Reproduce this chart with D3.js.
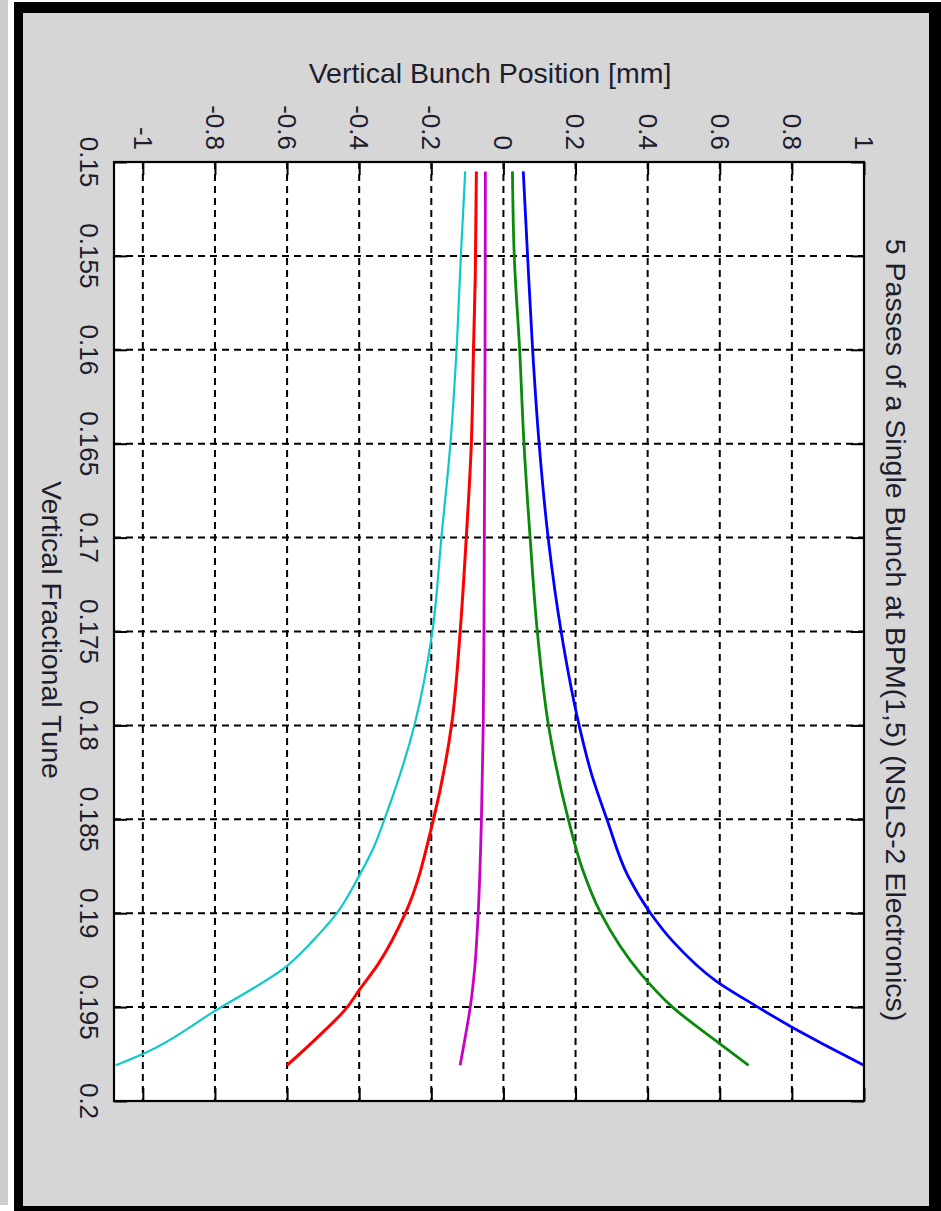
<!DOCTYPE html>
<html>
<head>
<meta charset="utf-8">
<script src="https://cdn.jsdelivr.net/npm/d3@7"></script>
<style>
  body { margin: 0; background: #fff; }
  text { font-family: "Liberation Sans", Arial, sans-serif; fill: #1d1d2e; }
</style>
</head>
<body>
<svg id="chart" width="941" height="1211"></svg>
<script>
// Axis ticks
const tuneTicks = [0.15, 0.155, 0.16, 0.165, 0.17, 0.175, 0.18, 0.185, 0.19, 0.195, 0.2];
const tuneTickLabels = ["0.15", "0.155", "0.16", "0.165", "0.17", "0.175", "0.18", "0.185", "0.19", "0.195", "0.2"];
const posTicks = [-1, -0.8, -0.6, -0.4, -0.2, 0, 0.2, 0.4, 0.6, 0.8, 1];
const posTickLabels = ["-1", "-0.8", "-0.6", "-0.4", "-0.2", "0", "0.2", "0.4", "0.6", "0.8", "1"];

// Five passes: fractional tune vs. vertical bunch position [mm]
const passColors = ["#0000ff", "#0a8a0a", "#c800c8", "#ff0000", "#10c8c8"];
const passWidths = [2.8, 2.8, 2.8, 3.0, 2.2];

const tunePass1 = [0.1505, 0.155, 0.16, 0.165, 0.17, 0.175, 0.18, 0.1825, 0.185, 0.188, 0.19, 0.1915, 0.1936, 0.195, 0.1961, 0.197, 0.1981];
const posPass1  = [0.055, 0.067, 0.081, 0.099, 0.124, 0.160, 0.210, 0.243, 0.287, 0.345, 0.408, 0.470, 0.589, 0.706, 0.803, 0.890, 1.0];

const tunePass2 = [0.1505, 0.155, 0.16, 0.165, 0.17, 0.175, 0.18, 0.185, 0.1877, 0.19, 0.1932, 0.195, 0.1969, 0.1981];
const posPass2  = [0.025, 0.030, 0.045, 0.057, 0.074, 0.094, 0.125, 0.180, 0.220, 0.270, 0.380, 0.469, 0.597, 0.680];

const tunePass3 = [0.1505, 0.16, 0.17, 0.175, 0.18, 0.185, 0.19, 0.193, 0.195, 0.1965, 0.1981];
const posPass3  = [-0.050, -0.051, -0.053, -0.054, -0.056, -0.061, -0.070, -0.080, -0.092, -0.105, -0.120];

const tunePass4 = [0.1505, 0.156, 0.16, 0.165, 0.17, 0.175, 0.18, 0.185, 0.19, 0.1927, 0.1941, 0.195, 0.1966, 0.1981];
const posPass4  = [-0.075, -0.078, -0.083, -0.089, -0.103, -0.120, -0.144, -0.194, -0.272, -0.347, -0.400, -0.433, -0.515, -0.600];

const tunePass5 = [0.1505, 0.155, 0.16, 0.165, 0.17, 0.175, 0.18, 0.185, 0.1865, 0.188, 0.19, 0.1915, 0.1928, 0.1952, 0.1975, 0.1981];
const posPass5  = [-0.106, -0.118, -0.130, -0.147, -0.172, -0.197, -0.247, -0.330, -0.360, -0.400, -0.462, -0.530, -0.600, -0.800, -1.0, -1.075];

const passes = [
  { tune: tunePass1, pos: posPass1 },
  { tune: tunePass2, pos: posPass2 },
  { tune: tunePass3, pos: posPass3 },
  { tune: tunePass4, pos: posPass4 },
  { tune: tunePass5, pos: posPass5 }
];

const titleText = "5 Passes of a Single Bunch at BPM(1,5) (NSLS-2 Electronics)";
const posLabel = "Vertical Bunch Position [mm]";
const tuneLabel = "Vertical Fractional Tune";

const svg = d3.select("#chart");

// Window frame
svg.append("rect").attr("x", 0).attr("y", 0).attr("width", 8).attr("height", 1205).attr("fill", "#cdcdcd");
svg.append("rect").attr("x", 14).attr("y", 2).attr("width", 927).attr("height", 1209).attr("fill", "#000");
svg.append("rect").attr("x", 23).attr("y", 13).attr("width", 906).attr("height", 1193).attr("fill", "#d6d6d6");

// Plot area: tune runs downward, position runs rightward
const L = 114, R = 864, T = 162, B = 1101;
const x = d3.scaleLinear().domain([-1.08, 1]).range([L, R]);
const y = d3.scaleLinear().domain([0.15, 0.2]).range([T, B]);

svg.append("rect").attr("x", L).attr("y", T).attr("width", R - L).attr("height", B - T).attr("fill", "#fff");

svg.append("clipPath").attr("id", "plotClip")
  .append("rect").attr("x", L).attr("y", T).attr("width", R - L).attr("height", B - T);

// Dashed grid
const grid = svg.append("g").attr("stroke", "#000").attr("stroke-width", 2).attr("stroke-dasharray", "7,5");
grid.selectAll("line.v").data(posTicks).join("line")
  .attr("x1", d => x(d)).attr("x2", d => x(d)).attr("y1", T).attr("y2", B);
grid.selectAll("line.h").data(tuneTicks.slice(1, -1)).join("line")
  .attr("x1", L).attr("x2", R).attr("y1", d => y(d)).attr("y2", d => y(d));

// Inward ticks on all four sides
const tickLen = 13;
const ticks = svg.append("g");
ticks.append("g").attr("transform", `translate(0,${T})`)
  .call(d3.axisBottom(x).tickValues(posTicks).tickSize(tickLen).tickFormat(""))
  .call(g => g.select(".domain").remove());
ticks.append("g").attr("transform", `translate(0,${B})`)
  .call(d3.axisTop(x).tickValues(posTicks).tickSize(tickLen).tickFormat(""))
  .call(g => g.select(".domain").remove());
ticks.append("g").attr("transform", `translate(${L},0)`)
  .call(d3.axisRight(y).tickValues(tuneTicks).tickSize(tickLen).tickFormat(""))
  .call(g => g.select(".domain").remove());
ticks.append("g").attr("transform", `translate(${R},0)`)
  .call(d3.axisLeft(y).tickValues(tuneTicks).tickSize(tickLen).tickFormat(""))
  .call(g => g.select(".domain").remove());
ticks.selectAll("line").attr("stroke", "#000").attr("stroke-width", 2);

// Curves
const line = d3.line()
  .x(d => x(d[1]))
  .y(d => y(d[0]))
  .curve(d3.curveMonotoneY);

svg.append("g").attr("clip-path", "url(#plotClip)")
  .selectAll("path").data(passes).join("path")
  .attr("d", p => line(p.tune.map((t, i) => [t, p.pos[i]])))
  .attr("fill", "none")
  .attr("stroke", (p, i) => passColors[i])
  .attr("stroke-width", (p, i) => passWidths[i])
  .attr("stroke-linejoin", "round");

// Plot box
svg.append("rect").attr("x", L).attr("y", T).attr("width", R - L).attr("height", B - T)
  .attr("fill", "none").attr("stroke", "#000").attr("stroke-width", 2.2);

// Position tick labels (rotated, above the plot)
svg.append("g").selectAll("text").data(posTicks).join("text")
  .attr("transform", d => `translate(${x(d)},150) rotate(90)`)
  .attr("text-anchor", "end")
  .attr("dy", "0.35em")
  .attr("font-size", 26)
  .text((d, i) => posTickLabels[i]);

// Tune tick labels (rotated, left of the plot)
svg.append("g").selectAll("text").data(tuneTicks).join("text")
  .attr("transform", d => `translate(80,${y(d)}) rotate(90)`)
  .attr("text-anchor", "middle")
  .attr("font-size", 26)
  .text((d, i) => tuneTickLabels[i]);

// Axis labels and title
svg.append("text").attr("x", 490).attr("y", 83).attr("text-anchor", "middle")
  .attr("font-size", 28.5).text(posLabel);
svg.append("text").attr("transform", "translate(42,630) rotate(90)").attr("text-anchor", "middle")
  .attr("font-size", 28.5).text(tuneLabel);
svg.append("text").attr("transform", "translate(886,630) rotate(90)").attr("text-anchor", "middle")
  .attr("font-size", 28.5).text(titleText);
</script>
</body>
</html>
